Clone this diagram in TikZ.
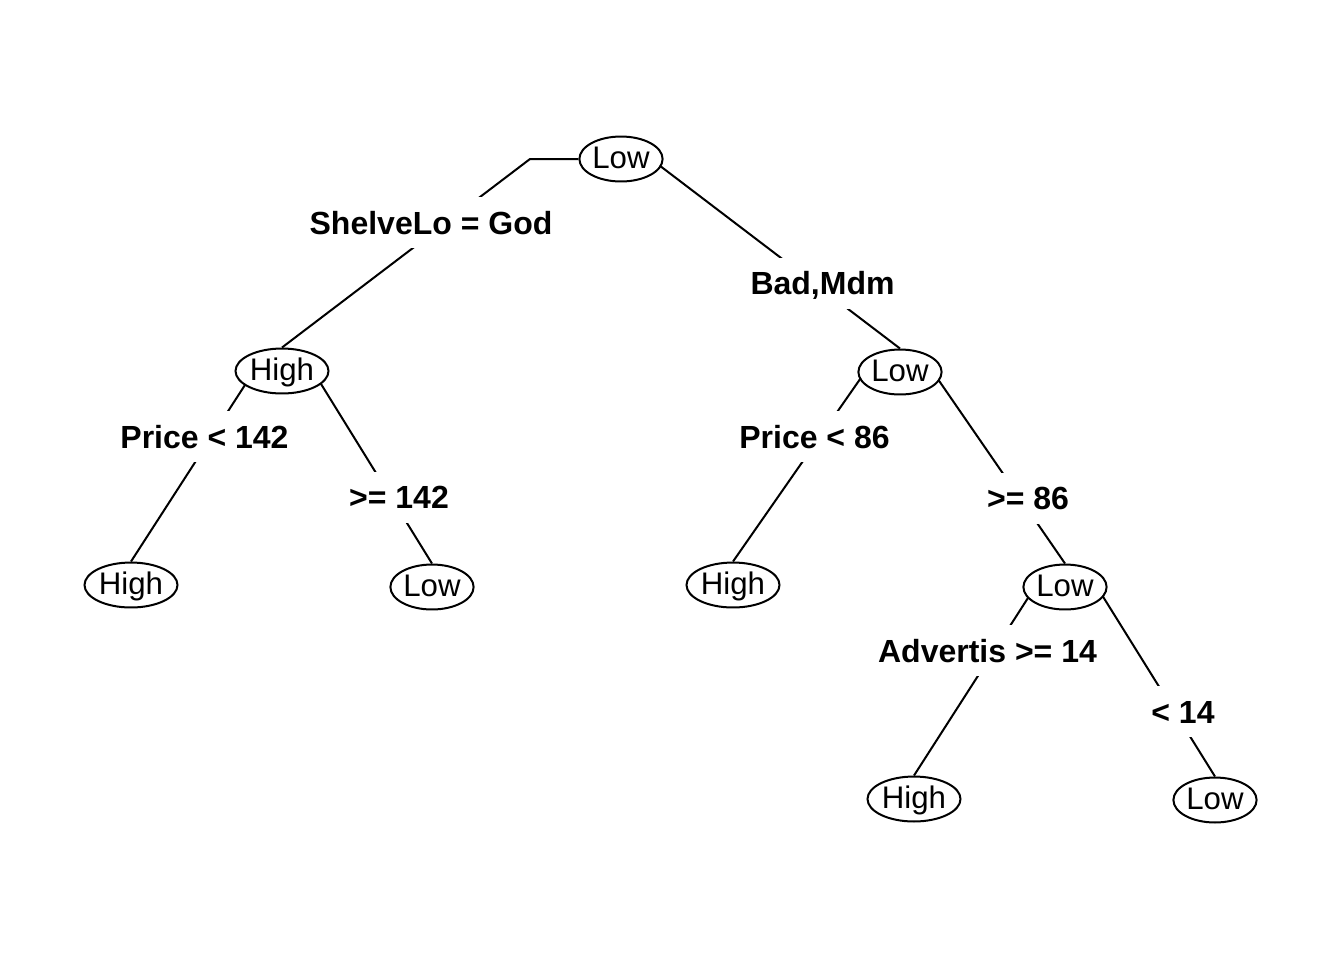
\documentclass[tikz,border=0pt]{standalone}
\usepackage{fontspec}
\setmainfont{Liberation Sans}
\usetikzlibrary{shapes.geometric,backgrounds}
\begin{document}
\begin{tikzpicture}[x=0.5pt, y=-0.5pt, line width=1pt,
    vote/.style={ellipse, draw, fill=white, inner xsep=0.4pt, inner ysep=0pt,
      text height=12.5pt, text depth=3.4pt,
      font=\fontsize{15.6}{18}\selectfont},
    split/.style={fill=white, inner xsep=1pt, inner ysep=0pt,
      text height=18.6pt, text depth=6.9pt,
      font=\fontsize{16}{19}\selectfont\bfseries},
    branch/.style={draw, line width=1pt}]
    \useasboundingbox (0,0) rectangle (1344,960);

    % 1. 树的节点 (椭圆)
    \node[vote] (root) at (621,159) {Low};
    \node[vote] (n1)   at (282,371) {High};
    \node[vote] (r1)   at (900,372) {Low};
    \node[vote] (ll)   at (131,585) {High};
    \node[vote] (lr)   at (432,587) {Low};
    \node[vote] (rl)   at (733,585) {High};
    \node[vote] (rr)   at (1065,587) {Low};
    \node[vote] (rrl)  at (914,799) {High};
    \node[vote] (rrr)  at (1215,800) {Low};

    % 2. 分裂条件 (粗体标签)
    \node[split] (sShelve) at (431,222.5)  {ShelveLo = God};
    \node[split] (sBad)    at (822.5,283)  {Bad,Mdm};
    \node[split] (sP142)   at (204.5,436.5) {Price < 142};
    \node[split] (sG142)   at (399,497)    {>= 142};
    \node[split] (sP86)    at (814.5,436.5) {Price < 86};
    \node[split] (sG86)    at (1028,498)   {>= 86};
    \node[split] (sAdv)    at (987.5,650.5) {Advertis >= 14};
    \node[split] (sL14)    at (1183,711.5) {< 14};

    % 3. 左分支的折点
    \coordinate (bendL) at (530,159);

    % 4. 连线 (画在底层, 被节点遮住)
    \begin{scope}[on background layer]
      \draw[branch] (root) -- (bendL) -- (n1.north);
      \draw[branch] ([shift={(30,0)}]root.center) -- (r1.north);
      \draw[branch] ([shift={(-28,0)}]n1.center) -- (ll.north);
      \draw[branch] ([shift={(31,0)}]n1.center) -- (lr.north);
      \draw[branch] ([shift={(-35,0)}]r1.center) -- (rl.north);
      \draw[branch] ([shift={(33,0)}]r1.center) -- (rr.north);
      \draw[branch] ([shift={(-30,0)}]rr.center) -- (rrl.north);
      \draw[branch] ([shift={(32,0)}]rr.center) -- (rrr.north);
    \end{scope}

\end{tikzpicture}
\end{document}
